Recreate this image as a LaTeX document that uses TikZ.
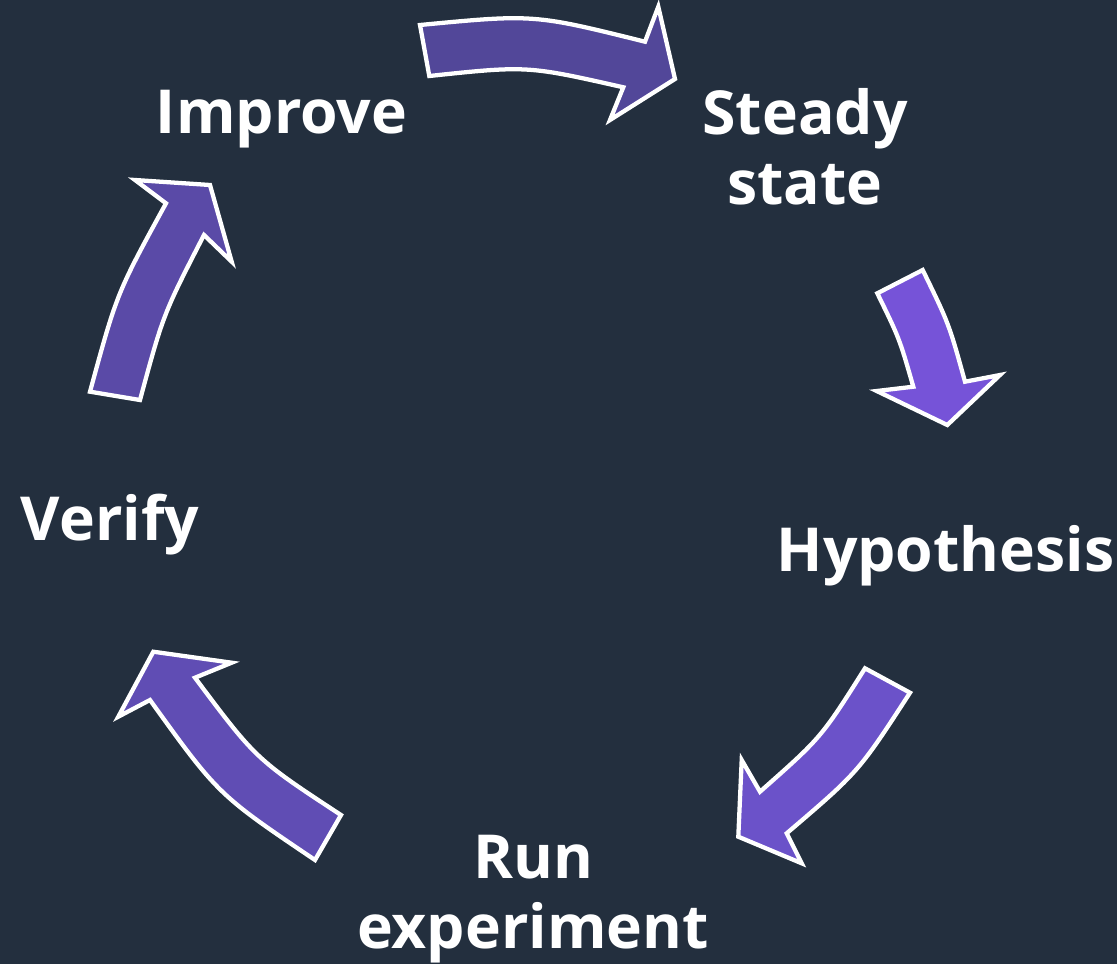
\documentclass[tikz,border=0pt]{standalone}
\usepackage{fontspec}
\setmainfont{Open Sans}
\usepackage{tikz}
\usetikzlibrary{positioning}

\definecolor{bgnavy}{HTML}{232F3E}
\definecolor{arrowA}{HTML}{524799}
\definecolor{arrowB}{HTML}{7653D8}
\definecolor{arrowC}{HTML}{6B52C9}
\definecolor{arrowD}{HTML}{604DB4}
\definecolor{arrowE}{HTML}{5A4AA7}

\tikzset{
  cyclearrow/.style={draw=white, line width=3.2pt, line join=miter},
  steplabel/.style={text=white, font=\fontsize{45.5}{52.5}\selectfont\bfseries,
                    inner sep=0pt, align=center, anchor=base},
}

\begin{document}
\begin{tikzpicture}[x=0.75pt, y=-0.75pt]
		%%%%% START %%%%%
		
		\fill[bgnavy] (0, 0) rectangle (1117, 964);
		\useasboundingbox (0, 0) rectangle (1117, 964);
		
		% labels (base = last line)
		\node[steplabel] (improve) at (281.5, 133.5) {Improve};
		\node[steplabel] (steady) at (805, 204) {Steady\\state};
		\node[steplabel] (hypo) at (945.5, 571.5) {Hypothesis};
		\node[steplabel] (runexp) at (533, 948) {Run\\experiment};
		\node[steplabel] (verify) at (110, 540) {Verify};
		
		% improve -> steady state
		\draw[cyclearrow, fill=arrowA] (420, 25) .. controls (533.9, 14.1) .. (645, 41.7)
			-- (658.3, 6.7) -- (675, 79) -- (610, 120) -- (623.3, 87.3)
			.. controls (527.2, 65.6) .. (429.3, 76) -- cycle;
		
		% steady state -> hypothesis
		\draw[cyclearrow, fill=arrowB] (922.7, 270) .. controls (949, 323.9) .. (965, 381.7)
			-- (1000, 375) -- (947.3, 425) -- (876.7, 391) -- (913.3, 386.7)
			.. controls (899.4, 338.4) .. (877.3, 293.3) -- cycle;
		
		% hypothesis -> run experiment
		\draw[cyclearrow, fill=arrowC] (865, 668.3) -- (910, 692.7)
			.. controls (858.5, 772) .. (786.7, 833.3)
			-- (801.7, 863.3) -- (738.3, 836.7) -- (741.7, 760) -- (760, 791.7)
			.. controls (821.3, 737.5) .. cycle;
		
		% run experiment -> verify
		\draw[cyclearrow, fill=arrowD] (341, 815) -- (315, 860)
			.. controls (218.2, 794.7) .. (150, 700)
			-- (118.3, 716.7) -- (153.3, 651.7) -- (231.7, 662.7) -- (195, 677.7)
			.. controls (256, 759.2) .. cycle;
		
		% verify -> improve
		\draw[cyclearrow, fill=arrowE] (140, 400) -- (90, 391.7)
			.. controls (116.9, 293) .. (166, 203.3)
			-- (135, 180) -- (210, 185) -- (231.7, 261.7) -- (204, 235)
			.. controls (163.3, 314.1) .. cycle;
		
		%%%%% END %%%%%
	\end{tikzpicture}
\end{document}
